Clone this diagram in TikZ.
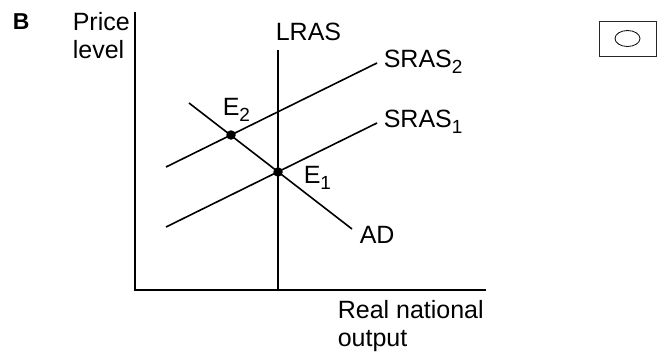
\documentclass[tikz,border=0pt]{standalone}
\usepackage{fontspec}
\setmainfont{Liberation Sans}
\usetikzlibrary{positioning}
\newcommand{\lowsub}[1]{\raisebox{-0.24em}{\fontsize{19}{19}\selectfont #1}}

\begin{document}
\begin{tikzpicture}[x=1pt, y=-1pt, line width=1.6pt,
  lbl/.style={anchor=base west, inner sep=0pt, font=\fontsize{25}{28}\selectfont},
  axlbl/.style={anchor=north west, inner sep=0pt, align=left, font=\fontsize{25}{28}\selectfont},
  eqdot/.style={circle, fill=black, inner sep=0pt, minimum size=9.5pt}]
  % Canvas (same size as the reference)
  \useasboundingbox (0,0) rectangle (661,351);

  % Axes
  \coordinate (origin) at (135,290);
  \coordinate (ytop) at (135,12);
  \coordinate (xend) at (486,290);
  \draw (ytop) -- (origin) -- (xend);

  % Axis labels
  \node[anchor=base west, inner sep=0pt, font=\fontsize{23}{23}\selectfont\bfseries] (part) at (12,29) {B};
  \node[axlbl] (ylbl) at (72,12) {Price\\level};
  \node[axlbl] (xlbl) at (337,300) {Real national\\output};

  % Long-run supply
  \coordinate (lrastop) at (278,50);
  \coordinate (lrasbot) at (278,290);
  \draw (lrasbot) -- (lrastop);
  \node[lbl] (lraslbl) at (275,40) {LRAS};

  % Short-run supply curves (shifted up)
  \foreach \n/\dy in {1/0, 2/-60} {
    \coordinate (sras\n a) at (166,227+\dy);
    \coordinate (sras\n b) at (377,123+\dy);
    \draw (sras\n a) -- (sras\n b);
    \node[lbl] (sras\n lbl) at (383,127+\dy) {SRAS\lowsub{\n}};
  }

  % Aggregate demand
  \coordinate (adtop) at (189,103);
  \coordinate (adbot) at (352,229);
  \draw (adtop) -- (adbot);
  \node[lbl] (adlbl) at (359,243) {AD};

  % Equilibria
  \node[eqdot] (E1) at (278,172) {};
  \node[eqdot] (E2) at (231,135) {};
  \node[lbl] (E1lbl) at (303,183) {E\lowsub{1}};
  \node[lbl] (E2lbl) at (222,115) {E\lowsub{2}};

  % Answer box
  \node[draw=black!85, line width=0.9pt, minimum width=57pt, minimum height=35pt, inner sep=0pt] (box) at (627.5,38.5) {};
  \draw[line width=0.8pt] (box.center) ellipse [x radius=12.5pt, y radius=8pt];
\end{tikzpicture}
\end{document}
